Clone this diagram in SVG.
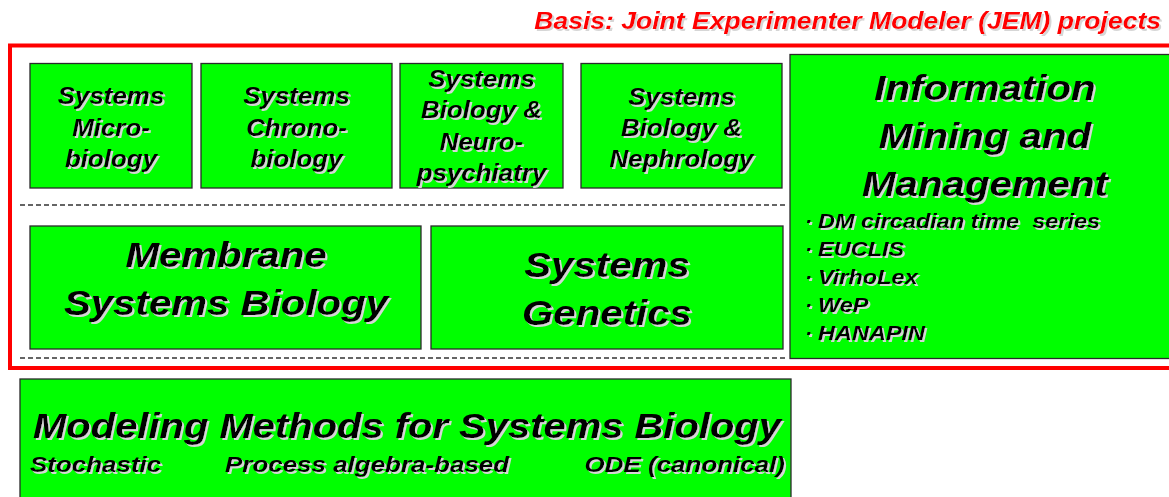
<svg xmlns="http://www.w3.org/2000/svg" width="1169" height="497" viewBox="0 0 1169 497">
  <defs>
    <!-- light drop shadow behind lettering -->
    <filter id="shadow" x="-5%" y="-20%" width="115%" height="150%">
      <feOffset in="SourceAlpha" dx="1.6" dy="1.6" result="off"/>
      <feFlood flood-color="#d6d6d6"/>
      <feComposite in2="off" operator="in" result="sh"/>
      <feMerge>
        <feMergeNode in="sh"/>
        <feMergeNode in="SourceGraphic"/>
      </feMerge>
    </filter>
    <style>
      .box { fill: #00ff00; stroke: #2a2a2a; stroke-width: 1.3; }
      .frame { fill: none; stroke: #ff0000; stroke-width: 4; }
      .sep { stroke: #333333; stroke-width: 1.3; stroke-dasharray: 5 3; fill: none; }
      text { font-family: "Liberation Sans", Arial, sans-serif; font-weight: bold; font-style: italic; fill: #000; filter: url(#shadow); }
      .small { font-size: 24px; text-anchor: middle; }
      .big { font-size: 35px; text-anchor: middle; }
      .bullet { font-size: 21px; }
      .title { font-size: 36px; text-anchor: middle; }
      .sub { font-size: 22px; }
      .header { font-size: 23.7px; fill: #ff0000; text-anchor: end; }
    </style>
  </defs>

  <rect width="1169" height="497" fill="#ffffff"/>

  <!-- heading -->
  <text class="header" transform="translate(1161,0) scale(1.12,1)" x="0" y="29">Basis: Joint Experimenter Modeler (JEM) projects</text>

  <!-- red frame around the JEM projects -->
  <rect class="frame" x="10" y="45.5" width="1180" height="322.5"/>

  <!-- dashed row separators -->
  <g id="separators">
    <line class="sep" x1="20" y1="205" x2="785" y2="205"/>
    <line class="sep" x1="20" y1="358" x2="785" y2="358"/>
  </g>

  <g id="microbiology">
    <rect class="box" x="30" y="63.5" width="162" height="124.5"/>
    <text class="small" transform="translate(111,0) scale(1.08,1)"><tspan x="0" y="104">Systems</tspan><tspan x="0" y="136">Micro-</tspan><tspan x="0" y="167">biology</tspan></text>
  </g>

  <g id="chronobiology">
    <rect class="box" x="201" y="63.5" width="191" height="124.5"/>
    <text class="small" transform="translate(296.5,0) scale(1.08,1)"><tspan x="0" y="104">Systems</tspan><tspan x="0" y="136">Chrono-</tspan><tspan x="0" y="167">biology</tspan></text>
  </g>

  <g id="neuropsychiatry">
    <rect class="box" x="400" y="63.5" width="163" height="124.5"/>
    <text class="small" transform="translate(481.5,0) scale(1.08,1)"><tspan x="0" y="87">Systems</tspan><tspan x="0" y="118.5">Biology &amp;</tspan><tspan x="0" y="150">Neuro-</tspan><tspan x="0" y="181">psychiatry</tspan></text>
  </g>

  <g id="nephrology">
    <rect class="box" x="581" y="63.5" width="201" height="124.5"/>
    <text class="small" transform="translate(681.5,0) scale(1.08,1)"><tspan x="0" y="105">Systems</tspan><tspan x="0" y="136">Biology &amp;</tspan><tspan x="0" y="167">Nephrology</tspan></text>
  </g>

  <g id="membrane">
    <rect class="box" x="30" y="226" width="391" height="123"/>
    <text class="big" transform="translate(226,0) scale(1.15,1)"><tspan x="0" y="267">Membrane</tspan><tspan x="0" y="315">Systems Biology</tspan></text>
  </g>

  <g id="genetics">
    <rect class="box" x="431" y="226" width="352" height="123"/>
    <text class="big" transform="translate(607,0) scale(1.15,1)"><tspan x="0" y="277">Systems</tspan><tspan x="0" y="325">Genetics</tspan></text>
  </g>

  <g id="information-mining">
    <rect class="box" x="790" y="54.5" width="400" height="304"/>
    <text class="big" transform="translate(985,0) scale(1.15,1)"><tspan x="0" y="100">Information</tspan><tspan x="0" y="148">Mining and</tspan><tspan x="0" y="196">Management</tspan></text>
    <text class="bullet"><tspan x="805" y="228">·</tspan><tspan x="805" y="256">·</tspan><tspan x="805" y="284">·</tspan><tspan x="805" y="312">·</tspan><tspan x="805" y="340">·</tspan></text>
    <text class="bullet" transform="translate(818,0) scale(1.12,1)" xml:space="preserve"><tspan x="0" y="228">DM circadian time  series</tspan><tspan x="0" y="256">EUCLIS</tspan><tspan x="0" y="284">VirhoLex</tspan><tspan x="0" y="312">WeP</tspan><tspan x="0" y="340">HANAPIN</tspan></text>
  </g>

  <g id="modeling-methods">
    <rect class="box" x="20" y="379" width="771" height="130"/>
    <text class="title" transform="translate(407,0) scale(1.11,1)" x="0" y="438">Modeling Methods for Systems Biology</text>
    <text class="sub" transform="translate(30,0) scale(1.18,1)" x="0" y="472">Stochastic</text>
    <text class="sub" transform="translate(225,0) scale(1.18,1)" x="0" y="472">Process algebra-based</text>
    <text class="sub" transform="translate(785,0) scale(1.18,1)" x="0" y="472" text-anchor="end">ODE (canonical)</text>
  </g>
</svg>
